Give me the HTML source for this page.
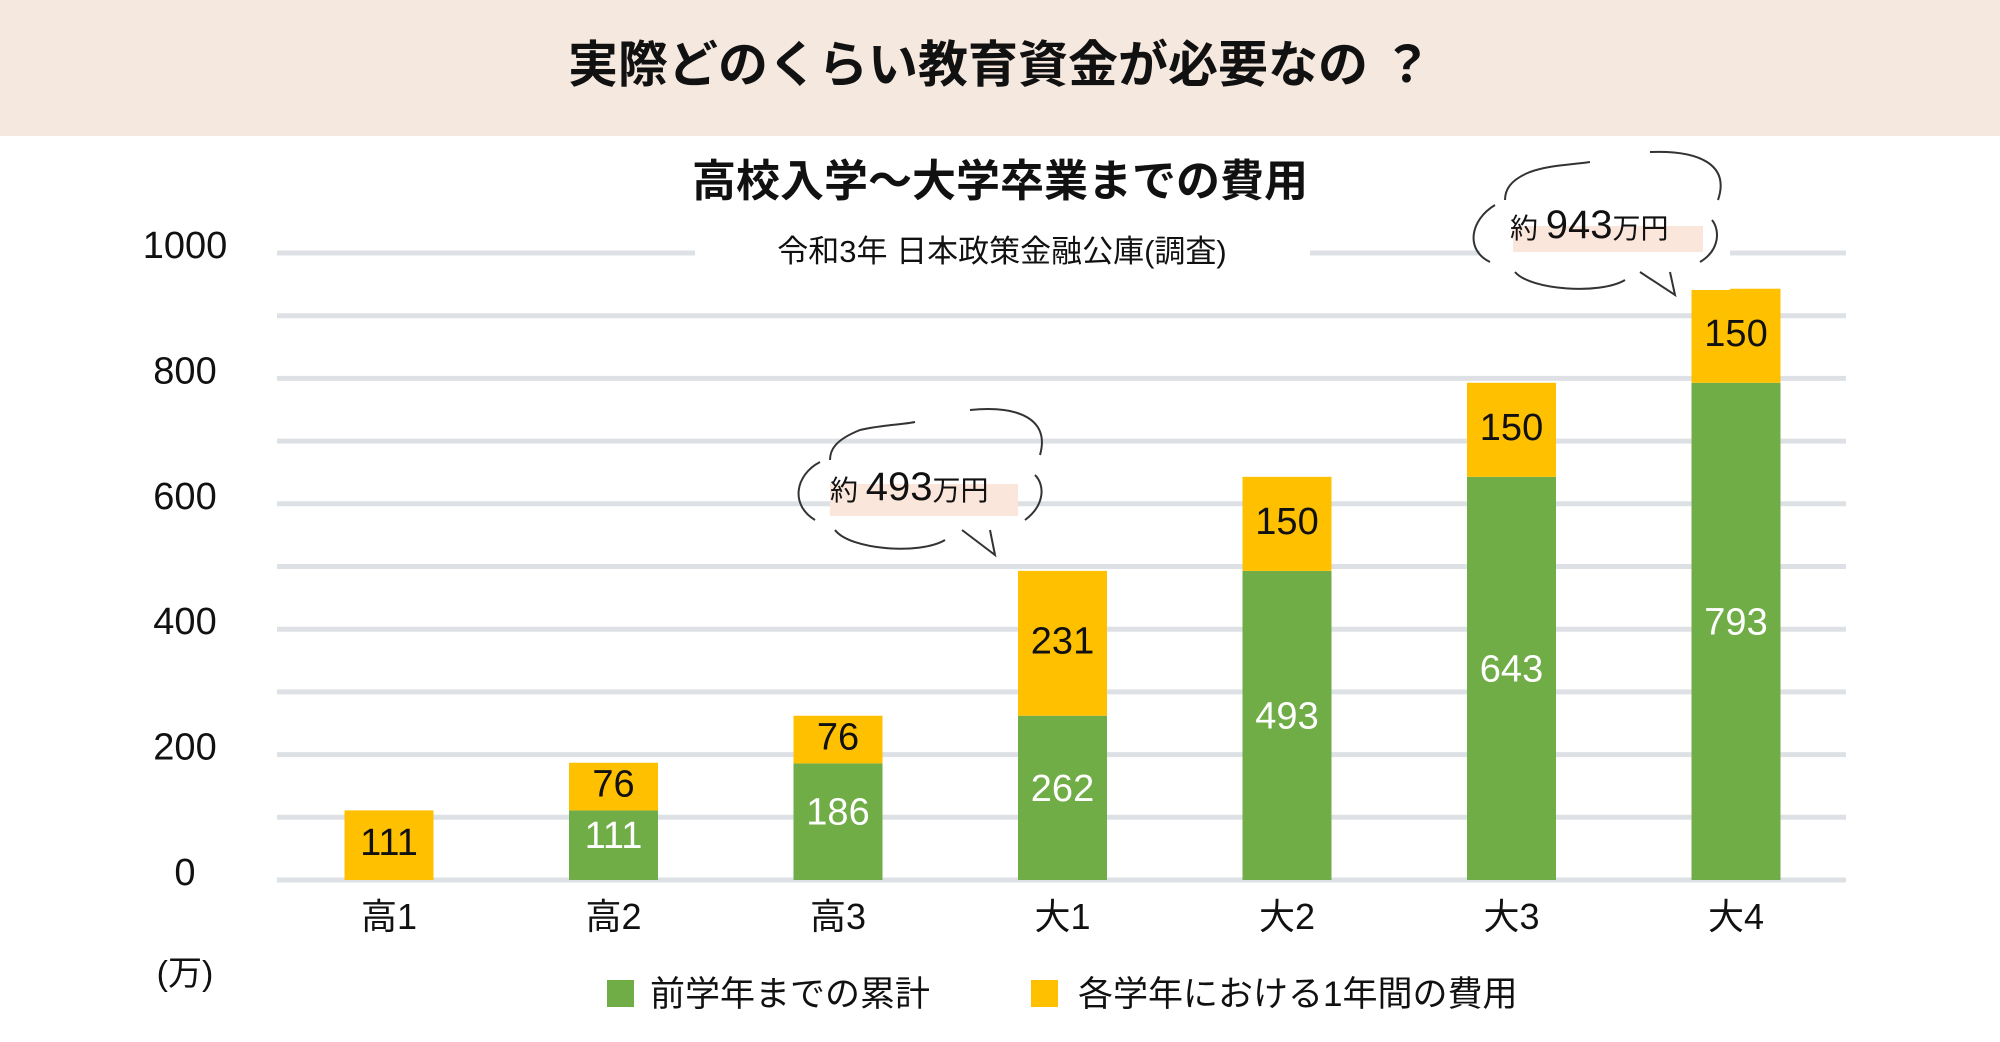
<!DOCTYPE html>
<html><head><meta charset="utf-8"><style>
html,body{margin:0;padding:0;background:#fff}
svg{display:block}
text{font-family:"Liberation Sans","Noto Sans CJK JP",sans-serif}
</style></head><body>
<svg id="chart" width="2000" height="1042" viewBox="0 0 2000 1042" xmlns="http://www.w3.org/2000/svg">
<rect x="0" y="0" width="2000" height="136" fill="#f5e8df"/>
<text x="1000" y="82" font-size="50" text-anchor="middle" fill="#111" font-weight="bold">実際どのくらい教育資金が必要なの ？</text>
<text x="1000" y="196" font-size="44" text-anchor="middle" fill="#111" font-weight="bold">高校入学～大学卒業までの費用</text>
<g id="grid"></g>
<rect x="695" y="228" width="615" height="46" fill="#fff"/>
<text x="1002" y="262" font-size="31" text-anchor="middle" fill="#111">令和3年 日本政策金融公庫(調査)</text>
<g id="bars"></g>
<rect x="1480" y="165" width="250" height="125" fill="#fff"/>
<g fill="none" stroke="#333" stroke-width="2">
<path d="M820,462 C795,475 790,505 815,520"/>
<path d="M835,530 C850,550 920,555 945,540"/>
<path d="M962,530 L995,555 L990,530"/>
<path d="M1025,520 C1045,505 1045,485 1035,475"/>
<path d="M1040,455 C1050,420 1020,405 970,410"/>
<path d="M915,422 C900,425 880,425 860,430 C835,440 830,450 830,460"/>
</g>
<rect x="830" y="484" width="188" height="32" fill="#fbe6dc"/>
<text x="830" y="500" font-size="28" fill="#111">約 <tspan font-size="40">493</tspan><tspan font-size="28">万円</tspan></text>
<g fill="none" stroke="#333" stroke-width="2">
<path d="M1495,205 C1470,220 1465,250 1490,262"/>
<path d="M1515,272 C1530,290 1600,295 1625,280"/>
<path d="M1640,272 L1675,295 L1670,272"/>
<path d="M1700,262 C1720,250 1720,230 1712,220"/>
<path d="M1718,200 C1730,165 1700,150 1650,152"/>
<path d="M1590,162 C1570,165 1550,165 1530,172 C1510,180 1505,190 1505,200"/>
</g>
<rect x="1513" y="226" width="190" height="26" fill="#fbe6dc"/>
<text x="1510" y="238" font-size="28" fill="#111">約 <tspan font-size="40">943</tspan><tspan font-size="28">万円</tspan></text>
<text x="185" y="985" font-size="34" text-anchor="middle" fill="#111">(万)</text>
<rect x="607" y="980" width="27" height="27" fill="#70ad47"/>
<text x="650" y="1006" font-size="35" fill="#111">前学年までの累計</text>
<rect x="1031" y="980" width="27" height="27" fill="#ffc000"/>
<text x="1078" y="1006" font-size="35" fill="#111">各学年における1年間の費用</text>
</svg>
<script>
const categories = ["高1","高2","高3","大1","大2","大3","大4"];
const cumulative = [0,111,186,262,493,643,793];
const annual = [111,76,76,231,150,150,150];
const yTicks = [0,200,400,600,800,1000];
const NS="http://www.w3.org/2000/svg";
const y0=880, y1=253, xLeft=277, xRight=1846;
function yScale(v){return y0-(v/1000)*(y0-y1);}
function xCenter(i){return 389+i*224.5;}
const barW=89;
const grid=document.getElementById('grid');
for(let v=0; v<=1000; v+=100){
  const l=document.createElementNS(NS,'line');
  l.setAttribute('x1',xLeft);l.setAttribute('x2',xRight);
  l.setAttribute('y1',yScale(v));l.setAttribute('y2',yScale(v));
  l.setAttribute('stroke','#dde1e6');l.setAttribute('stroke-width','5');
  
  
  grid.appendChild(l);
}
yTicks.forEach(v=>{
  const t=document.createElementNS(NS,'text');
  t.setAttribute('x',185);t.setAttribute('y',yScale(v)-8+13);
  t.setAttribute('font-size','38');t.setAttribute('text-anchor','middle');t.setAttribute('fill','#111');
  t.textContent=v;
  
  
  grid.appendChild(t);
});
const bars=document.getElementById('bars');
function label(x,y,txt,col,name){
  const t=document.createElementNS(NS,'text');
  t.setAttribute('x',x);t.setAttribute('y',y+13);
  t.setAttribute('font-size','38');t.setAttribute('text-anchor','middle');t.setAttribute('fill',col);
  t.textContent=txt;
  
  
  bars.appendChild(t);
}
categories.forEach((c,i)=>{
  const x=xCenter(i)-barW/2;
  if(cumulative[i]>0){
    const r=document.createElementNS(NS,'rect');
    r.setAttribute('x',x);r.setAttribute('width',barW);
    r.setAttribute('y',yScale(cumulative[i]));r.setAttribute('height',y0-yScale(cumulative[i]));
    r.setAttribute('fill','#70ad47');
    
    
    bars.appendChild(r);
    label(xCenter(i),(yScale(cumulative[i])+y0)/2-10,cumulative[i],'#fff','bar-cumulative-value');
  }
  const top=cumulative[i]+annual[i];
  const r2=document.createElementNS(NS,'rect');
  r2.setAttribute('x',x);r2.setAttribute('width',barW);
  r2.setAttribute('y',yScale(top));r2.setAttribute('height',yScale(cumulative[i])-yScale(top));
  r2.setAttribute('fill','#ffc000');
  
  
  bars.appendChild(r2);
  label(xCenter(i),(yScale(top)+yScale(cumulative[i]))/2-3,annual[i],'#111','bar-annual-value');
  const t=document.createElementNS(NS,'text');
  t.setAttribute('x',xCenter(i));t.setAttribute('y',929);
  t.setAttribute('font-size','36');t.setAttribute('text-anchor','middle');t.setAttribute('fill','#111');
  t.textContent=c;
  
  
  bars.appendChild(t);
});
</script>
</body></html>
